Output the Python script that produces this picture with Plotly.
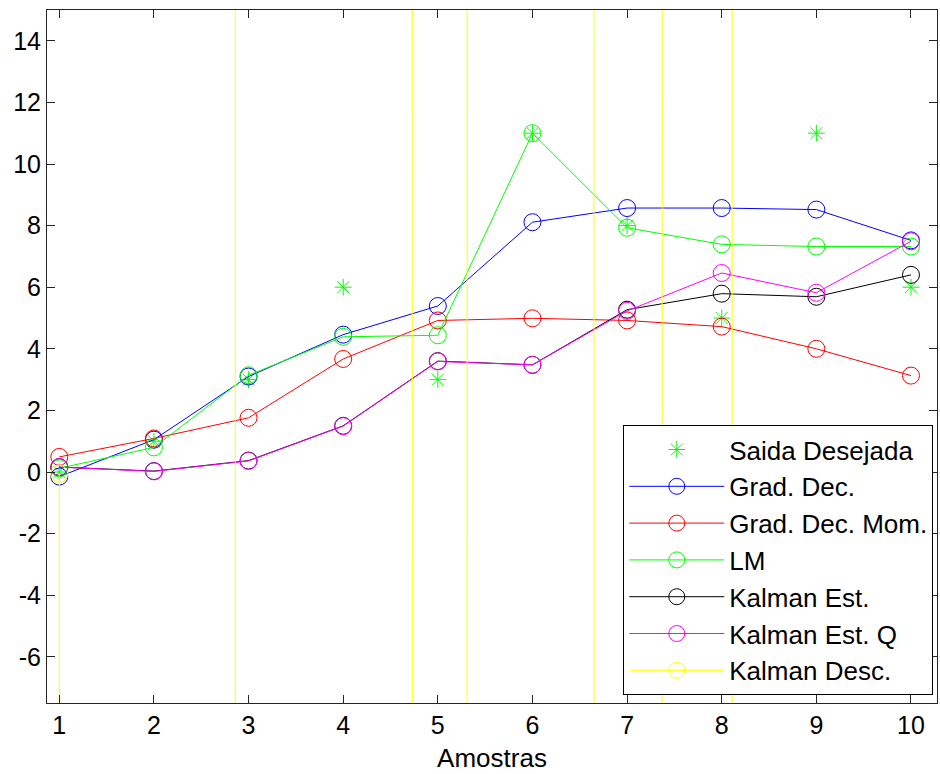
import plotly.graph_objects as go

amostras = [1, 2, 3, 4, 5, 6, 7, 8, 9, 10]

saida_desejada = [0.0, 1.0, 3.0, 6.0, 3.0, 11.0, 8.0, 5.0, 11.0, 6.0]
grad_dec = [-0.15, 1.05, 3.1, 4.46, 5.39, 8.11, 8.57, 8.57, 8.52, 7.52]
grad_dec_mom = [0.49, 1.09, 1.76, 3.67, 4.92, 4.99, 4.92, 4.72, 4.0, 3.13]
lm = [0.12, 0.8, 3.14, 4.39, 4.44, 11.0, 7.93, 7.39, 7.32, 7.32]
kalman_est = [0.16, 0.03, 0.37, 1.5, 3.6, 3.48, 5.27, 5.79, 5.69, 6.4]
kalman_est_q = [0.16, 0.02, 0.36, 1.49, 3.59, 3.48, 5.23, 6.46, 5.82, 7.49]
kalman_desc = [-0.06, -100000, 16300, 20000, -7400, 16500, -8880, 15100, -122000, -30000]

y_ticks = [-6, -4, -2, 0, 2, 4, 6, 8, 10, 12, 14]
y_tick_labels = ["-6", "-4", "-2", "0", "2", "4", "6", "8", "10", "12", "14"]
x_ticks = amostras
x_tick_labels = ["1", "2", "3", "4", "5", "6", "7", "8", "9", "10"]

FONT = "Liberation Sans, Arial, sans-serif"

fig = go.Figure()

fig.add_trace(go.Scatter(
    x=amostras, y=saida_desejada, name="Saida Desejada", mode="markers",
    marker=dict(symbol="asterisk-open", size=14, color="#00FF00",
                line=dict(color="#00FF00", width=1)),
))

line_series = [
    ("Grad. Dec.", grad_dec, "#0000FF"),
    ("Grad. Dec. Mom.", grad_dec_mom, "#FF0000"),
    ("LM", lm, "#00FF00"),
    ("Kalman Est.", kalman_est, "#000000"),
    ("Kalman Est. Q", kalman_est_q, "#FF00FF"),
    ("Kalman Desc.", kalman_desc, "#FFFF00"),
]
for name, vals, col in line_series:
    fig.add_trace(go.Scatter(
        x=amostras, y=vals, name=name, mode="lines+markers",
        line=dict(color=col, width=1),
        marker=dict(symbol="circle-open", size=17, color=col,
                    line=dict(color=col, width=1)),
        cliponaxis=True,
    ))

axis_common = dict(
    showgrid=False, zeroline=False, showline=True, linecolor="#262626",
    linewidth=1, mirror="ticks", ticks="inside", ticklen=8, tickwidth=1,
    tickcolor="#262626",
    tickfont=dict(family=FONT, size=25, color="#000000"),
)

fig.update_layout(
    width=940, height=774,
    margin=dict(l=47, r=3, t=10, b=71),
    paper_bgcolor="white", plot_bgcolor="white",
    font=dict(family=FONT, size=25, color="#000000"),
    xaxis=dict(range=[0.87, 10.275], tickvals=x_ticks, ticktext=x_tick_labels,
               title=dict(text="Amostras", font=dict(family=FONT, size=26), standoff=10),
               **axis_common),
    yaxis=dict(range=[-7.5, 15], tickvals=y_ticks, ticktext=y_tick_labels,
               **axis_common),
    legend=dict(
        x=0.6475, y=0.401, xanchor="left", yanchor="top",
        bgcolor="white", bordercolor="#000000", borderwidth=1,
        font=dict(family=FONT, size=26, color="#000000"),
        itemwidth=95, tracegroupgap=0,
    ),
    showlegend=True,
)

fig.write_html("out.html")
